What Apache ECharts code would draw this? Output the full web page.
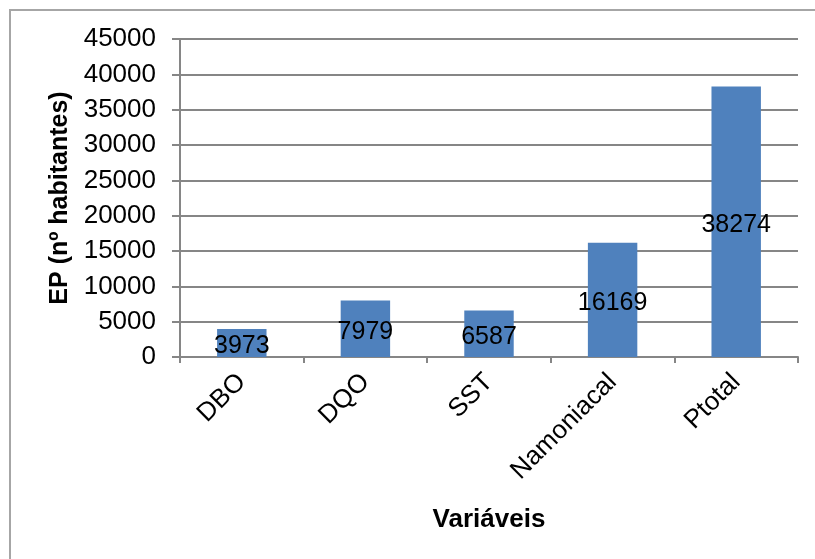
<!DOCTYPE html>
<html>
<head>
<meta charset="utf-8">
<script src="https://cdn.jsdelivr.net/npm/echarts@6/dist/echarts.min.js"></script>
<style>
html,body{margin:0;padding:0;background:#fff;}
#c{width:815px;height:559px;}
</style>
</head>
<body>
<div id="c"></div>
<script>
const categories = ['DBO', 'DQO', 'SST', 'Namoniacal', 'Ptotal'];
const values = [3973, 7979, 6587, 16169, 38274];
const yTitle = 'EP (nº habitantes)';
const xTitle = 'Variáveis';

const chart = echarts.init(document.getElementById('c'), null, {renderer: 'canvas'});
const font = 'Liberation Sans, Arial, sans-serif';
chart.setOption({
  animation: false,
  backgroundColor: '#ffffff',
  graphic: [{
    type: 'polyline',
    shape: {points: [[10, 600], [10, 10], [900, 10]]},
    style: {stroke: '#a6a6a6', lineWidth: 2, fill: null},
    silent: true
  }],
  grid: {left: 180, right: 17, top: 39, bottom: 202},
  xAxis: {
    type: 'category',
    data: categories,
    name: xTitle,
    nameLocation: 'middle',
    nameGap: 150,
    nameTextStyle: {fontFamily: font, fontSize: 26, fontWeight: 'bold', color: '#000'},
    axisLine: {lineStyle: {color: '#868686', width: 2}},
    axisTick: {show: true, length: 6, lineStyle: {color: '#868686', width: 2}},
    axisLabel: {rotate: 45, margin: 21, fontFamily: font, fontSize: 26, color: '#000'}
  },
  yAxis: {
    type: 'value',
    min: 0, max: 45000, interval: 5000,
    name: yTitle,
    nameLocation: 'middle',
    nameGap: 107,
    nameTextStyle: {fontFamily: font, fontSize: 25, fontWeight: 'bold', color: '#000'},
    axisLine: {show: true, lineStyle: {color: '#868686', width: 2}},
    axisTick: {show: true, length: 8, lineStyle: {color: '#868686', width: 2}},
    axisLabel: {margin: 24, fontFamily: font, fontSize: 26, color: '#000',
      formatter: function (v) { return String(v); }},
    splitLine: {show: true, lineStyle: {color: '#868686', width: 2}}
  },
  series: [{
    type: 'bar',
    data: values,
    barWidth: '40%',
    itemStyle: {color: '#4F81BD'},
    label: {
      show: true, position: 'inside', offset: [0, 3],
      fontFamily: font, fontSize: 25, color: '#000'
    }
  }]
});
</script>
</body>
</html>
